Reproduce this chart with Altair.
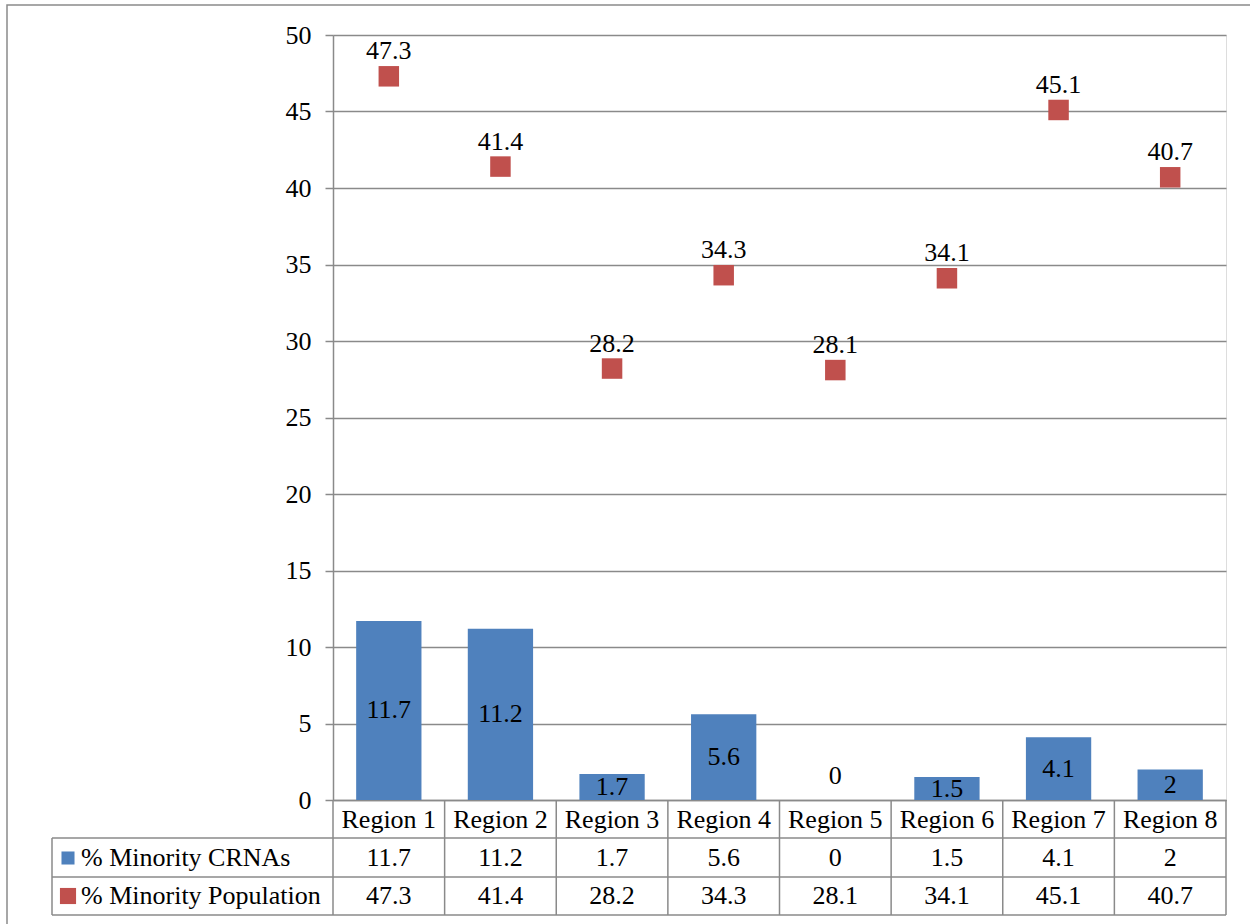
import altair as alt
import pandas as pd

# Chart values
regions = ["Region 1", "Region 2", "Region 3", "Region 4",
           "Region 5", "Region 6", "Region 7", "Region 8"]
minority_crnas = [11.7, 11.2, 1.7, 5.6, 0, 1.5, 4.1, 2]
minority_population = [47.3, 41.4, 28.2, 34.3, 28.1, 34.1, 45.1, 40.7]
series_names = ["% Minority CRNAs", "% Minority Population"]

BLUE = "#4F81BD"
RED = "#C0504D"
GRID = "#8A8A8A"
FONT = "Liberation Serif"
FS = 26

W, H = 893, 765  # plot area

df = pd.DataFrame({
    "Region": regions,
    "CRNA": minority_crnas,
    "Pop": minority_population,
})
df["CRNA_txt"] = [f"{v:g}" for v in minority_crnas]
df["Pop_txt"] = [f"{v:g}" for v in minority_population]

xband = alt.Scale(domain=regions, paddingInner=0, paddingOuter=0)
yscale = alt.Scale(domain=[0, 50], nice=False)

x_enc = alt.X("Region:N", scale=xband,
              axis=alt.Axis(labels=False, ticks=False, title=None,
                            domain=True, domainColor=GRID, domainWidth=1.5,
                            grid=False))
y_axis = alt.Axis(values=list(range(0, 51, 5)), title=None,
                  labelFont=FONT, labelFontSize=FS, labelColor="black",
                  labelPadding=14, tickSize=8, tickColor=GRID, tickWidth=1.5,
                  domainColor=GRID, domainWidth=1.5,
                  grid=True, gridColor=GRID, gridWidth=1.5)

base = alt.Chart(df)

bars = base.mark_bar(color=BLUE, width=alt.RelativeBandSize(0.585)).encode(
    x=x_enc,
    y=alt.Y("CRNA:Q", scale=yscale, axis=y_axis),
)

bar_labels = base.transform_calculate(
    lab_y="datum.CRNA == 0 ? 1.6 : datum.CRNA / 2"
).mark_text(font=FONT, fontSize=FS, color="black", baseline="middle").encode(
    x=alt.X("Region:N", scale=xband),
    y=alt.Y("lab_y:Q", scale=yscale),
    text="CRNA_txt:N",
)

squares = base.mark_square(color=RED, size=420, opacity=1).encode(
    x=alt.X("Region:N", scale=xband),
    y=alt.Y("Pop:Q", scale=yscale),
)

square_labels = base.mark_text(font=FONT, fontSize=FS, color="black",
                               baseline="middle", dy=-25).encode(
    x=alt.X("Region:N", scale=xband),
    y=alt.Y("Pop:Q", scale=yscale),
    text="Pop_txt:N",
)


# Data table beneath the plot
def table_row(field, ypix):
    return base.mark_text(font=FONT, fontSize=FS, color="black",
                          baseline="middle").encode(
        x=alt.X("Region:N", scale=xband),
        y=alt.value(ypix),
        text=f"{field}:N",
    )


header_row = table_row("Region", 785)
crna_row = table_row("CRNA_txt", 823)
pop_row = table_row("Pop_txt", 861)

blank = alt.Data(values=[{}])


def rule(x, x2, y, y2, w=1.5):
    return alt.Chart(blank).mark_rule(color=GRID, strokeWidth=w).encode(
        x=alt.value(x), x2=alt.value(x2), y=alt.value(y), y2=alt.value(y2)
    )


legend_df = pd.DataFrame({"name": series_names, "color": [BLUE, RED]})
legend_y = [823, 861]
legend_sizes = [170, 260]

legend_layers = []
for name, color, ly, sz in zip(series_names, [BLUE, RED], legend_y, legend_sizes):
    d = legend_df[legend_df["name"] == name]
    legend_layers.append(
        alt.Chart(d).mark_square(color=color, size=sz, opacity=1).encode(
            x=alt.value(-265), y=alt.value(ly)
        )
    )
    legend_layers.append(
        alt.Chart(d).mark_text(font=FONT, fontSize=FS, color="black",
                               align="left", baseline="middle").encode(
            x=alt.value(-252), y=alt.value(ly), text="name:N"
        )
    )

col_lines = base.mark_rule(color=GRID, strokeWidth=1.5).encode(
    x=alt.X("Region:N", scale=xband, bandPosition=0),
    y=alt.value(H),
    y2=alt.value(880),
)

table_rules = [
    rule(-281, W, 803, 803),
    rule(-281, W, 842, 842),
    rule(-281, W, 880, 880),
    rule(-281, -281, 803, 880),
    rule(W, W, H, 880),
]

frame = alt.Chart(blank).mark_rect(fill=None, stroke=GRID, strokeWidth=1.5).encode(
    x=alt.value(-326), x2=alt.value(1500), y=alt.value(-30), y2=alt.value(1500)
)

chart = alt.layer(
    frame, bars, col_lines, *table_rules, bar_labels, squares, square_labels,
    header_row, crna_row, pop_row, *legend_layers
).properties(
    width=W, height=H,
    autosize=alt.AutoSizeParams(type="none"),
    padding={"left": 333, "top": 35, "right": 24, "bottom": 124},
).configure_view(stroke=None).configure(background="white")

chart.save("out.html", embed_options={"renderer": "svg", "actions": False})
